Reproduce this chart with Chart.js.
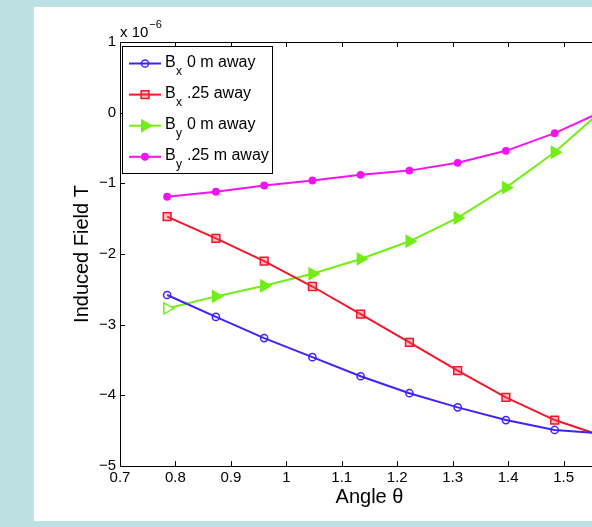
<!DOCTYPE html>
<html>
<head>
<meta charset="utf-8">
<script src="https://cdn.jsdelivr.net/npm/chart.js@4.4.1/dist/chart.umd.min.js"></script>
<style>
  html, body { margin: 0; padding: 0; }
  body { width: 592px; height: 527px; overflow: hidden; background: #bde0e3; position: relative; }
  #panel { position: absolute; left: 34px; top: 7px; width: 600px; height: 514px; background: #fff; }
  #wrap { position: absolute; left: 0; top: 0; width: 640px; height: 527px; }
</style>
</head>
<body>
<div id="panel"></div>
<div id="wrap"><canvas id="chart"></canvas></div>
<script>
// angle in radians (45..90 deg in 5 deg steps)
const angles = [0.785, 0.873, 0.960, 1.047, 1.134, 1.222, 1.309, 1.396, 1.484, 1.571];
// induced field, units of 1e-6 T
const bx0  = [-2.58, -2.89, -3.19, -3.46, -3.73, -3.97, -4.17, -4.35, -4.49, -4.54];
const bx25 = [-1.47, -1.78, -2.10, -2.46, -2.85, -3.25, -3.65, -4.03, -4.35, -4.58];
const by0  = [-2.77, -2.60, -2.45, -2.28, -2.07, -1.82, -1.49, -1.06, -0.56, 0.04];
const by25 = [-1.19, -1.12, -1.03, -0.96, -0.88, -0.82, -0.71, -0.54, -0.29, 0.02];

const legendSubs = ['x', 'x', 'y', 'y'];
const legendText = ['0 m away', '.25 away', '0 m away', '.25 m away'];
const xTicks = [0.7, 0.8, 0.9, 1.0, 1.1, 1.2, 1.3, 1.4, 1.5, 1.6];
const yTicks = [-5, -4, -3, -2, -1, 0, 1];

const FONT = "'Liberation Sans', Arial, Helvetica, sans-serif";
const colors = ['#3f22ff', '#f5142a', '#72ee14', '#f414f0'];

function toPts(ys) {
  return angles.map((a, i) => ({ x: a, y: ys[i] }));
}

const styles = [
  { style: 'circle', r: 3.6, fill: 'rgba(255,255,255,0)', rot: 0 },
  { style: 'rect', r: 5.5, fill: 'rgba(255,70,90,0.35)', rot: 0 },
  { style: 'triangle', r: 6.5, fill: colors[2], rot: 90 },
  { style: 'circle', r: 3.2, fill: colors[3], rot: 0 }
];

function drawMarker(ctx, s, color, x, y) {
  ctx.save();
  ctx.strokeStyle = color;
  ctx.fillStyle = s.fill;
  ctx.lineWidth = 1.5;
  ctx.beginPath();
  if (s.style === 'circle') {
    ctx.arc(x, y, s.r, 0, Math.PI * 2);
  } else if (s.style === 'rect') {
    const h = s.r * Math.SQRT1_2;
    ctx.rect(x - h, y - h, 2 * h, 2 * h);
  } else {
    let rad = s.rot * Math.PI / 180;
    for (let k = 0; k < 3; k++) {
      const px = x + Math.sin(rad) * s.r, py = y - Math.cos(rad) * s.r;
      if (k === 0) ctx.moveTo(px, py); else ctx.lineTo(px, py);
      rad += 2 * Math.PI / 3;
    }
    ctx.closePath();
  }
  ctx.fill();
  ctx.stroke();
  ctx.restore();
}

const framePlugin = {
  id: 'frame',
  afterDraw(chart) {
    const ctx = chart.ctx;
    const a = chart.chartArea;
    const xs = chart.scales.x, ys = chart.scales.y;
    ctx.save();
    ctx.strokeStyle = '#000';
    ctx.lineWidth = 1;
    ctx.beginPath();
    ctx.rect(a.left + 0.5, a.top + 0.5, a.right - a.left, a.bottom - a.top);
    ctx.stroke();
    // inward ticks
    ctx.beginPath();
    xTicks.forEach(v => {
      const px = Math.round(xs.getPixelForValue(v)) + 0.5;
      ctx.moveTo(px, a.bottom); ctx.lineTo(px, a.bottom - 5);
      ctx.moveTo(px, a.top); ctx.lineTo(px, a.top + 5);
    });
    yTicks.forEach(v => {
      const py = Math.round(ys.getPixelForValue(v)) + 0.5;
      ctx.moveTo(a.left, py); ctx.lineTo(a.left + 5, py);
      ctx.moveTo(a.right, py); ctx.lineTo(a.right - 5, py);
    });
    ctx.stroke();

    // exponent label
    ctx.fillStyle = '#000';
    ctx.textBaseline = 'alphabetic';
    ctx.font = '15px ' + FONT;
    ctx.fillText('x 10', a.left, 37);
    const w = ctx.measureText('x 10').width;
    ctx.font = '11px ' + FONT;
    ctx.fillText('\u22126', a.left + w + 1, 28);

    // legend
    const lx = 122.5, ly = 46.5, lw = 150, lh = 127;
    ctx.fillStyle = '#fff';
    ctx.fillRect(lx, ly, lw, lh);
    ctx.strokeStyle = '#000';
    ctx.strokeRect(lx, ly, lw, lh);
    for (let i = 0; i < 4; i++) {
      const ry = 63.5 + i * 31.1;
      ctx.strokeStyle = colors[i];
      ctx.lineWidth = 2;
      ctx.beginPath();
      ctx.moveTo(129, ry); ctx.lineTo(161, ry);
      ctx.stroke();
      drawMarker(ctx, styles[i], colors[i], 145, ry);
      ctx.fillStyle = '#000';
      ctx.font = '16px ' + FONT;
      ctx.fillText('B', 165, ry + 3);
      ctx.font = '12px ' + FONT;
      ctx.fillText(legendSubs[i], 176, ry + 11.5);
      ctx.font = '16px ' + FONT;
      ctx.fillText(legendText[i], 187, ry + 3);
    }
    ctx.restore();
  }
};

const datasets = [bx0, bx25, by0, by25].map((ys, i) => ({
  label: legendSubs[i] + ' ' + legendText[i],
  data: toPts(ys),
  borderColor: colors[i],
  borderWidth: 2,
  pointStyle: styles[i].style,
  pointRotation: styles[i].rot,
  pointRadius: styles[i].r,
  pointBorderWidth: 1.5,
  pointBorderColor: colors[i],
  pointBackgroundColor: i === 2 ? (c => c.dataIndex === 0 ? '#fff' : colors[2]) : styles[i].fill,
  tension: 0
}));

new Chart(document.getElementById('chart'), {
  type: 'line',
  data: { datasets: datasets },
  options: {
    responsive: true,
    maintainAspectRatio: false,
    animation: false,
    devicePixelRatio: 1,
    layout: { padding: { top: 42, right: 21, left: 0, bottom: 0 } },
    plugins: { legend: { display: false }, tooltip: { enabled: false } },
    scales: {
      x: {
        type: 'linear',
        min: 0.7,
        max: 1.6,
        afterFit: s => { s.height = 61; },
        afterBuildTicks: s => { s.ticks = xTicks.map(v => ({ value: v })); },
        ticks: {
          color: '#000',
          font: { family: FONT, size: 15 },
          padding: 3,
          maxRotation: 0,
          autoSkip: false,
          callback: v => String(Math.round(v * 10) / 10)
        },
        grid: { display: false, drawTicks: false },
        border: { display: false },
        title: {
          display: true,
          text: 'Angle θ',
          color: '#000',
          font: { family: FONT, size: 20 },
          padding: { top: 0, bottom: 18 }
        }
      },
      y: {
        min: -5,
        max: 1,
        afterFit: s => { s.width = 120; },
        afterBuildTicks: s => { s.ticks = yTicks.map(v => ({ value: v })); },
        ticks: {
          color: '#000',
          font: { family: FONT, size: 15 },
          padding: 4,
          autoSkip: false,
          callback: v => v < 0 ? '\u2212' + Math.abs(v) : String(v)
        },
        grid: { display: false, drawTicks: false },
        border: { display: false },
        title: {
          display: true,
          text: 'Induced Field T',
          color: '#000',
          font: { family: FONT, size: 20 },
          padding: { top: 70, bottom: 0 }
        }
      }
    }
  },
  plugins: [framePlugin]
});
</script>
</body>
</html>
